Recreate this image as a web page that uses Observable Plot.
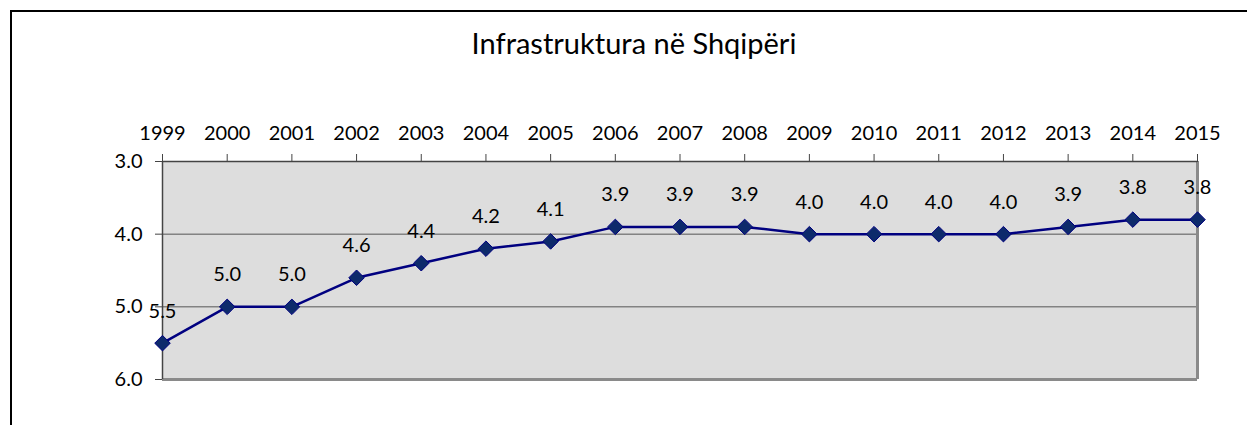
<!DOCTYPE html>
<html>
<head>
<meta charset="utf-8">
<script src="https://cdn.jsdelivr.net/npm/d3@7"></script>
<script src="https://cdn.jsdelivr.net/npm/@observablehq/plot@0.6"></script>
<style>
  html, body { margin: 0; padding: 0; background: #fff; }
  #wrap { position: relative; width: 1248px; height: 425px; overflow: hidden; font-family: Lato, sans-serif; }
  #border { position: absolute; left: 10px; top: 10px; width: 1237px; height: 500px; border-left: 2px solid #000; border-top: 2px solid #000; box-sizing: border-box; }
  #title { position: absolute; left: 0; width: 1268px; top: 25px; text-align: center; font-size: 29px; color: #000; }
  #chart { position: absolute; left: 0; top: 0; }
</style>
</head>
<body>
<div id="wrap">
  <div id="border"></div>
  <div id="title">Infrastruktura në Shqipëri</div>
  <div id="chart"></div>
</div>
<script>
const years = [1999, 2000, 2001, 2002, 2003, 2004, 2005, 2006, 2007, 2008, 2009, 2010, 2011, 2012, 2013, 2014, 2015];
const values = [5.5, 5.0, 5.0, 4.6, 4.4, 4.2, 4.1, 3.9, 3.9, 3.9, 4.0, 4.0, 4.0, 4.0, 3.9, 3.8, 3.8];
const yTicks = [3, 4, 5, 6];

const data = years.map((y, i) => ({year: y, value: values[i]}));

const chart = Plot.plot({
  width: 1248,
  height: 425,
  marginLeft: 162,
  marginRight: 51,
  marginTop: 161,
  marginBottom: 46,
  style: {fontFamily: "Lato, sans-serif", fontSize: "20px", color: "#000", background: "transparent"},
  x: {type: "linear", domain: [years[0], years[years.length - 1]], axis: null, label: null},
  y: {domain: [3, 6], reverse: true, axis: null, label: null},
  marks: [
    Plot.frame({fill: "#dddddd", stroke: null}),
    Plot.ruleY([4, 5], {stroke: "#555", strokeWidth: 1}),
    Plot.ruleY([6], {stroke: "#8a8a8a", strokeWidth: 3}),
    Plot.ruleX([years[years.length - 1]], {stroke: "#8a8a8a", strokeWidth: 3}),
    Plot.ruleY([3], {stroke: "#444", strokeWidth: 1.5}),
    Plot.ruleX([years[0]], {stroke: "#444", strokeWidth: 1.5}),
    Plot.axisX({anchor: "top", ticks: years, tickSize: 8, tickPadding: 14, tickFormat: d => String(d), stroke: "#444", fontSize: 20, label: null}),
    Plot.axisY({anchor: "left", ticks: yTicks, tickSize: 7, tickPadding: 13, tickFormat: d => d.toFixed(1), stroke: "#444", fontSize: 20, label: null}),
    Plot.line(data, {x: "year", y: "value", stroke: "#000080", strokeWidth: 2.5}),
    Plot.dot(data, {x: "year", y: "value", symbol: "diamond2", r: 7, fill: "#0d2a6b", stroke: "#000080", strokeWidth: 1}),
    Plot.text(data, {x: "year", y: "value", text: d => d.value.toFixed(1), dy: -32, fontSize: 20, fill: "#000"})
  ]
});
document.getElementById("chart").appendChild(chart);
</script>
</body>
</html>
